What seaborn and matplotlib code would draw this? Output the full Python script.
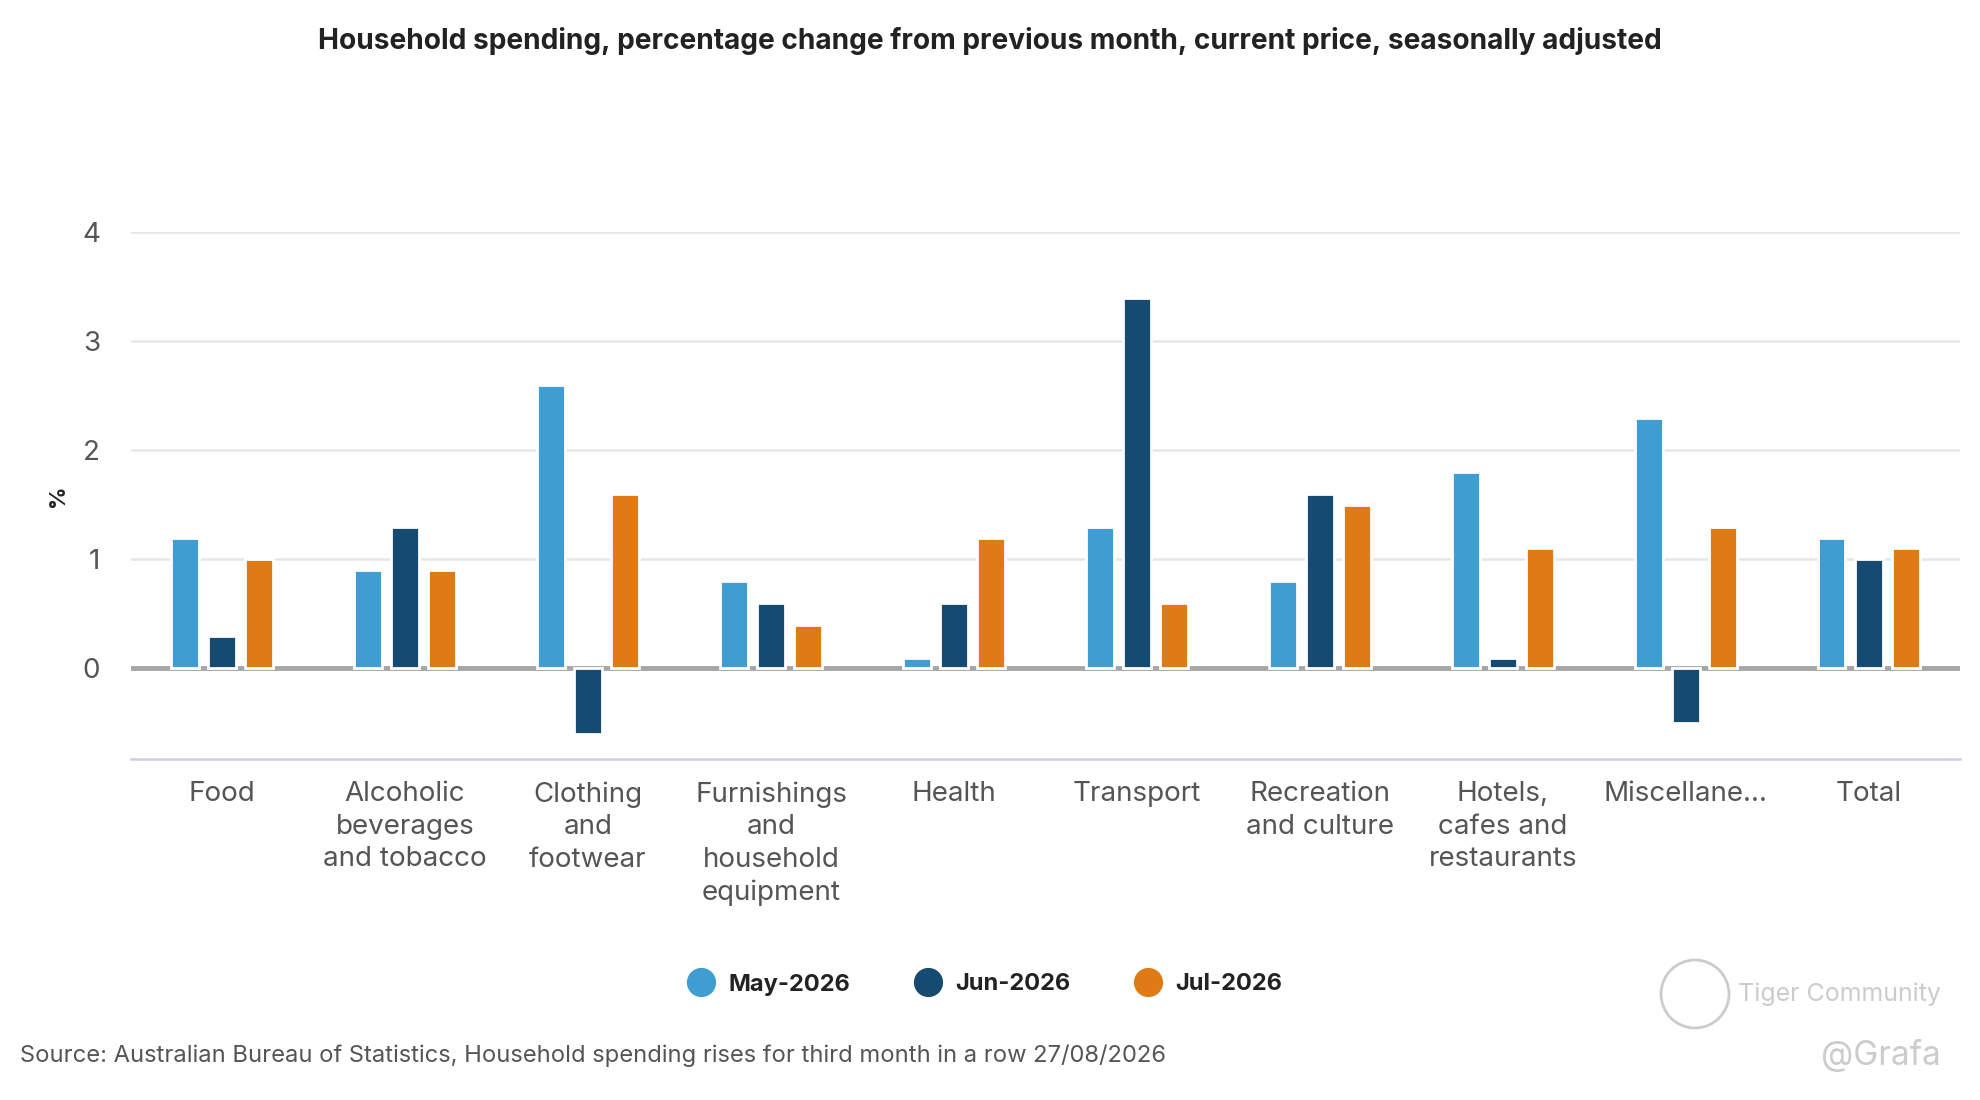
import pandas as pd
import matplotlib.pyplot as plt
import seaborn as sns
from matplotlib.lines import Line2D
from matplotlib.patches import Circle

# Data
categories = ["Food", "Alcoholic\nbeverages\nand tobacco", "Clothing\nand\nfootwear",
              "Furnishings\nand\nhousehold\nequipment", "Health", "Transport",
              "Recreation\nand culture", "Hotels,\ncafes and\nrestaurants",
              "Miscellane\u2026", "Total"]
months = ["May-2026", "Jun-2026", "Jul-2026"]
may_vals = [1.2, 0.9, 2.6, 0.8, 0.1, 1.3, 0.8, 1.8, 2.3, 1.2]
jun_vals = [0.3, 1.3, -0.6, 0.6, 0.6, 3.4, 1.6, 0.1, -0.5, 1.0]
jul_vals = [1.0, 0.9, 1.6, 0.4, 1.2, 0.6, 1.5, 1.1, 1.3, 1.1]
colors = ["#3f9dd1", "#154a71", "#de7b17"]

df = pd.DataFrame({
    "category": categories * 3,
    "month": [m for m in months for _ in categories],
    "value": may_vals + jun_vals + jul_vals,
})

sns.set_theme(style="white")
plt.rcParams["font.family"] = ["Inter", "DejaVu Sans"]

fig = plt.figure(figsize=(19.8, 11), dpi=100)
ax = fig.add_axes([0.066, 0.31, 0.924, 0.479])

sns.barplot(data=df, x="category", y="value", hue="month", order=categories,
            hue_order=months, palette=colors, saturation=1, width=0.61, gap=0.25,
            edgecolor="white", linewidth=2, ax=ax, legend=False, zorder=3)

ax.set_ylim(-0.83, 4.0)
ax.set_yticks([0, 1, 2, 3, 4])
ax.yaxis.grid(True, color="#e6e6e6", linewidth=1.8, zorder=0)
ax.xaxis.grid(False)
ax.axhline(0, color="#a6a6a6", linewidth=3.5, zorder=1)
for side in ["top", "right", "left"]:
    ax.spines[side].set_visible(False)
ax.spines["bottom"].set_color("#ccd0e0")
ax.spines["bottom"].set_linewidth(1.8)
ax.set_xlim(-0.5, len(categories) - 0.5)

ax.tick_params(axis="y", length=0, pad=22, labelsize=20, labelcolor="#555555")
ax.tick_params(axis="x", length=0, pad=16, labelsize=20, labelcolor="#555555")
for lab in ax.get_xticklabels():
    lab.set_verticalalignment("top")
    lab.set_linespacing(1.32)
ax.set_xlabel("")
ax.set_ylabel("%", fontsize=16, fontweight="bold", color="#222222", labelpad=10)

fig.text(0.5, 0.963, "Household spending, percentage change from previous month, current price, seasonally adjusted",
         ha="center", va="center", fontsize=20.2, fontweight="bold", color="#222222")

handles = [Line2D([0], [0], marker="o", linestyle="", markersize=20,
                  markerfacecolor=c, markeredgecolor=c) for c in colors]
leg = fig.legend(handles, months, loc="center", bbox_to_anchor=(0.495, 0.105), ncol=3,
                 frameon=False, fontsize=17, handletextpad=0.15, columnspacing=2.3)
for t in leg.get_texts():
    t.set_fontweight("bold")
    t.set_color("#222222")

fig.text(0.01, 0.04, "Source: Australian Bureau of Statistics, Household spending rises for third month in a row 27/08/2026",
         ha="left", va="center", fontsize=17.1, color="#555555")

# watermark
fig.patches.append(Circle((16.95, 1.06), 0.34, transform=fig.dpi_scale_trans,
                          fill=False, edgecolor="#cccccc", linewidth=2))
fig.text(0.98, 0.096, "Tiger Community", ha="right", va="center", fontsize=18, color="#cccccc")
fig.text(0.98, 0.04, "@Grafa", ha="right", va="center", fontsize=24, color="#cccccc")

fig.savefig("out.png", dpi=100, facecolor="white")
